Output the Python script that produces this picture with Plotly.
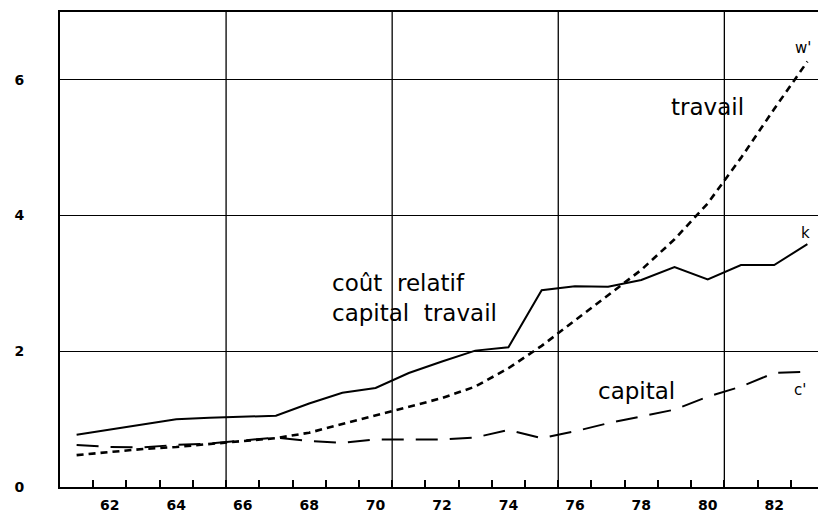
import plotly.graph_objects as go

years = list(range(61, 84))
k_relatif = [0.77, 0.85, 0.92, 1.00, 1.02, 1.03, 1.05, 1.23, 1.39, 1.46, 1.68, 1.85,
             2.01, 2.06, 2.90, 2.96, 2.95, 3.05, 3.24, 3.06, 3.27, 3.27, 3.58]
w_travail = [0.47, 0.52, 0.56, 0.59, 0.63, 0.67, 0.72, 0.80, 0.93, 1.06, 1.18, 1.31,
             1.48, 1.75, 2.08, 2.45, 2.82, 3.20, 3.65, 4.18, 4.85, 5.57, 6.27]
c_capital = [0.62, 0.59, 0.585, 0.62, 0.64, 0.68, 0.73, 0.68, 0.65, 0.70, 0.70, 0.70,
             0.73, 0.84, 0.72, 0.82, 0.94, 1.04, 1.14, 1.33, 1.48, 1.68, 1.70]

x_tick_vals = [62, 64, 66, 68, 70, 72, 74, 76, 78, 80, 82]
x_tick_text = ["62", "64", "66", "68", "70", "72", "74", "76", "78", "80", "82"]
year_bounds = [y + 0.5 for y in range(61, 83)]
x_grid = [65.5, 70.5, 75.5, 80.5]
y_tick_vals = [0, 2, 4, 6]
y_tick_text = ["0", "2", "4", "6"]

fig = go.Figure()
fig.add_trace(go.Scatter(x=years, y=k_relatif, mode="lines",
                         line=dict(color="black", width=2)))
fig.add_trace(go.Scatter(x=years, y=w_travail, mode="lines",
                         line=dict(color="black", width=2.6, dash="7px,5px")))
fig.add_trace(go.Scatter(x=years, y=c_capital, mode="lines",
                         line=dict(color="black", width=2, dash="22px,12px")))

for gx in x_grid:
    fig.add_shape(type="line", xref="x", yref="paper", x0=gx, x1=gx, y0=0, y1=1,
                  line=dict(color="black", width=1.3), layer="below")

lab = dict(family="DejaVu Sans", size=23, color="black")
small = dict(family="DejaVu Sans", size=15, color="black")
annots = [
    dict(x=80.0, y=5.60, text="travail", font=lab, xanchor="center", yanchor="middle"),
    dict(x=68.63, y=2.79, text="coût\u00a0\u00a0relatif<br>capital\u00a0\u00a0travail", font=lab,
         xanchor="left", yanchor="middle", align="left"),
    dict(x=77.85, y=1.41, text="capital", font=lab, xanchor="center", yanchor="middle"),
    dict(x=82.88, y=6.47, text="w'", font=small, xanchor="center", yanchor="middle"),
    dict(x=82.94, y=3.74, text="k", font=small, xanchor="center", yanchor="middle"),
    dict(x=82.79, y=1.43, text="c'", font=small, xanchor="center", yanchor="middle"),
]
for a in annots:
    a.update(showarrow=False, xref="x", yref="y")

tick_font = dict(family="DejaVu Sans", size=14, color="black", weight="bold")

fig.update_layout(
    width=818, height=505,
    margin=dict(l=52, r=2, t=4, b=26),
    paper_bgcolor="white", plot_bgcolor="white",
    showlegend=False,
    annotations=annots,
    xaxis=dict(range=[60.5, 83.5], tickmode="array", tickvals=x_tick_vals, ticktext=x_tick_text,
               ticks="", showgrid=False, zeroline=False, automargin=False,
               showline=True, mirror=True, linecolor="black", linewidth=2,
               tickfont=tick_font, ticklabelstandoff=4,
               minor=dict(tickmode="array", tickvals=year_bounds, ticks="inside", ticklen=7,
                          tickwidth=1.5, tickcolor="black", showgrid=False)),
    yaxis=dict(range=[0, 7], tickmode="array", tickvals=y_tick_vals, ticktext=y_tick_text,
               ticks="", showgrid=True, gridcolor="black", gridwidth=1.3, zeroline=False,
               automargin=False,
               showline=True, mirror=True, linecolor="black", linewidth=2,
               tickfont=tick_font, ticklabelstandoff=31),
)

fig.write_html("out.html")
